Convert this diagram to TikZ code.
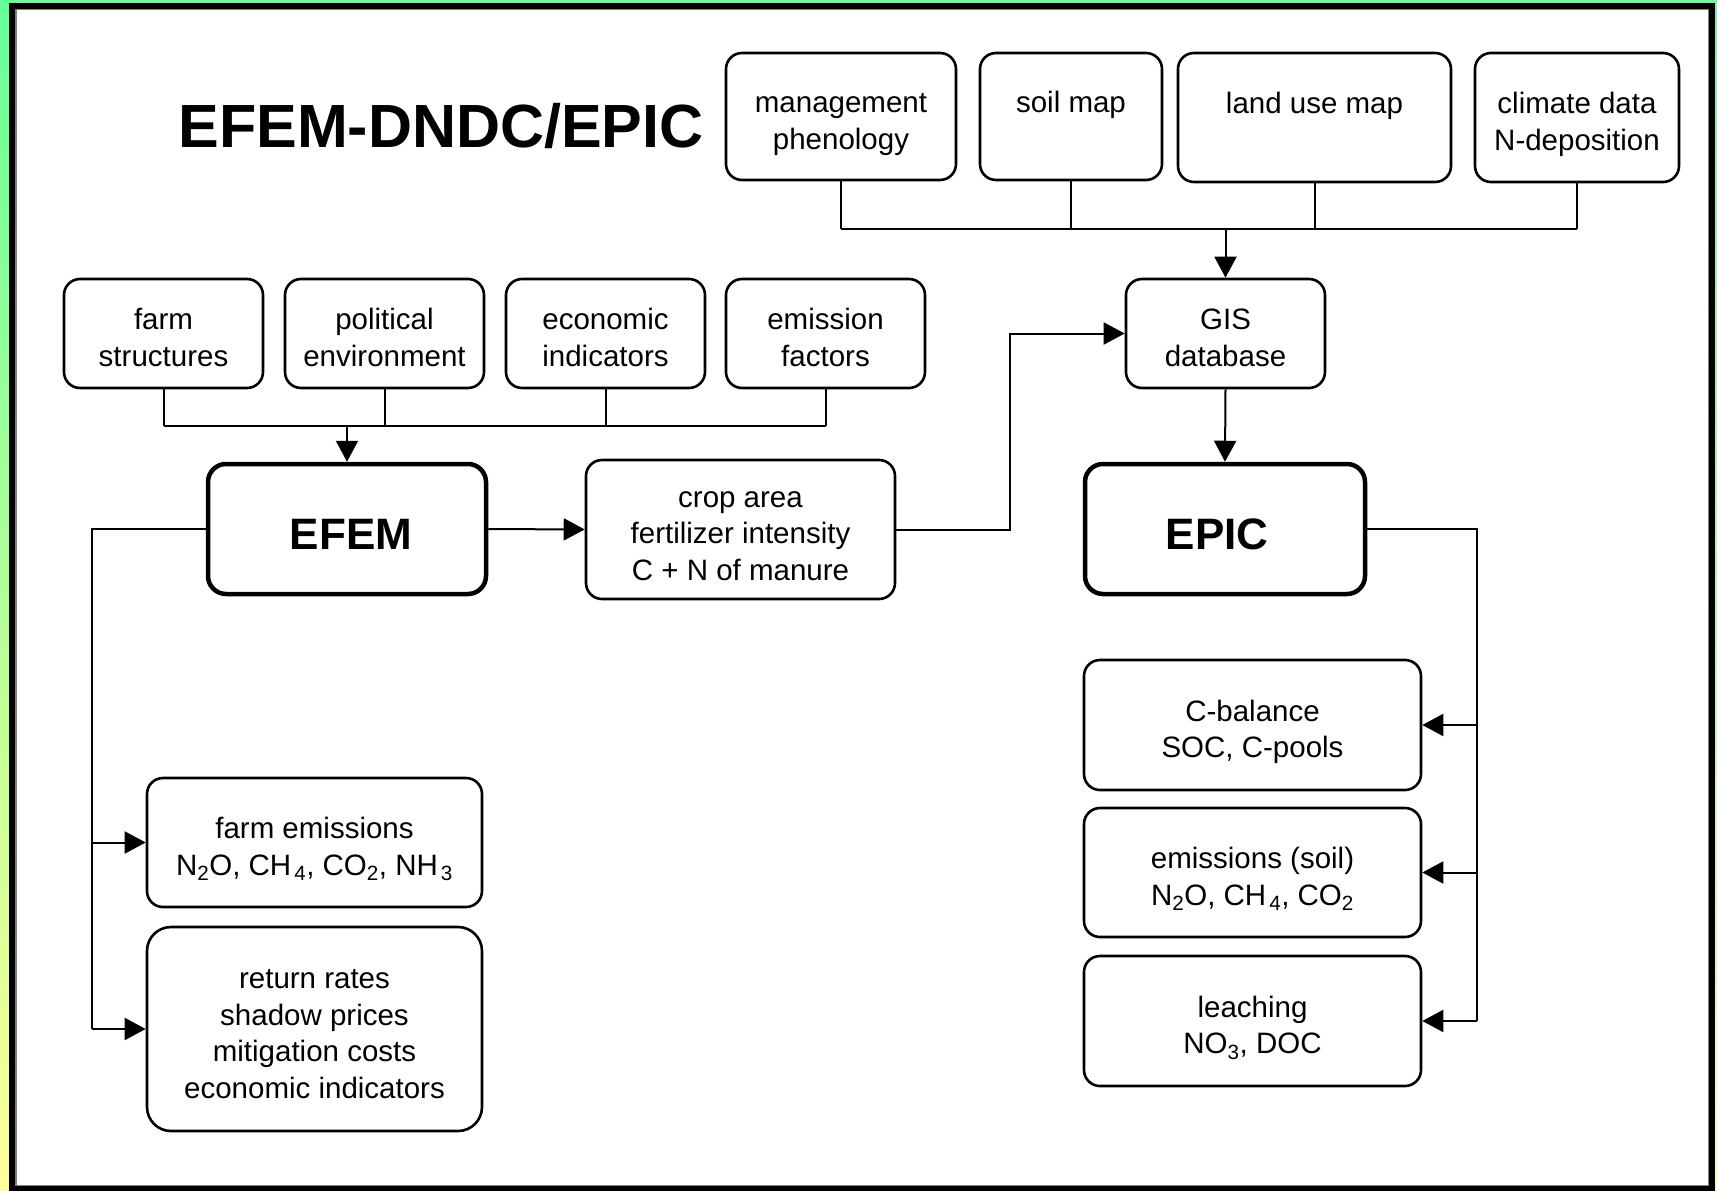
\documentclass[tikz,border=0pt]{standalone}
\usepackage{fontspec}
\setmainfont{Liberation Sans}
\usetikzlibrary{arrows.meta}
\definecolor{framegreen}{RGB}{102,255,153}
\definecolor{frameyellow}{RGB}{255,255,153}
% struts that fix the vertical placement of box texts
\newcommand\tstrut{\rule{0pt}{35.5pt}}
\newcommand\bstrut{\rule[-7pt]{0pt}{0pt}}
\begin{document}
\begin{tikzpicture}[x=1pt,y=-1pt,
  box/.style={draw, line width=2.6pt, rounded corners=16pt, fill=white,
    align=center, inner sep=0pt, font=\fontsize{29.5}{36.5}\selectfont},
  bigbox/.style={box, rounded corners=24pt},
  model/.style={draw, line width=4.5pt, rounded corners=18pt, fill=white,
    inner sep=0pt, font=\fontsize{44}{50}\selectfont\bfseries,
    execute at begin node={\rule{0pt}{41pt}}},
  link/.style={line width=2pt},
  arr/.style={link, -{Triangle[length=21pt,width=22pt]}},
]
\useasboundingbox (0,0) rectangle (1717,1191);
% page background and frame
\shade[top color=framegreen, bottom color=frameyellow] (0,0) rectangle (1717,1191);
\draw[line width=6.5pt, fill=white] (12.25,5.75) rectangle (1712,1189);
\draw[gray, line width=1.2pt] (16,9.6) rectangle (1708.5,1185.5);

% title
\node[font=\fontsize{61}{70}\selectfont\bfseries] (title) at (441,126) {EFEM-DNDC/EPIC};

% spatial input data
\node[box, minimum width=230pt, minimum height=127pt] (mgmt) at (841,116.5) {\tstrut management\\phenology\bstrut};
\node[box, minimum width=182pt, minimum height=127pt] (soil) at (1071,116.5) {\tstrut soil map\\\mbox{}\bstrut};
\node[box, minimum width=273pt, minimum height=129pt] (land) at (1314.5,117.5) {\tstrut land use map\\\mbox{}\bstrut};
\node[box, minimum width=204pt, minimum height=129pt] (clim) at (1577,117.5) {\tstrut climate data\\N-deposition\bstrut};

% farm model inputs
\node[box, minimum width=199pt, minimum height=109pt] (farm) at (163.5,333.5) {\tstrut farm\\structures\bstrut};
\node[box, minimum width=199pt, minimum height=109pt] (pol) at (384.5,333.5) {\tstrut political\\environment\bstrut};
\node[box, minimum width=199pt, minimum height=109pt] (eco) at (605.5,333.5) {\tstrut economic\\indicators\bstrut};
\node[box, minimum width=199pt, minimum height=109pt] (emf) at (825.5,333.5) {\tstrut emission\\factors\bstrut};
\node[box, minimum width=199pt, minimum height=109pt] (gis) at (1225.5,333.5) {\tstrut GIS\\database\bstrut};

% models and exchange
\node[model, minimum width=278pt, minimum height=130pt] (efem) at (347,529) {\hspace{8pt}EFEM};
\node[box, minimum width=309pt, minimum height=139pt] (crop) at (740.5,529.5) {\tstrut crop area\\fertilizer intensity\\C + N of manure\bstrut};
\node[model, minimum width=280pt, minimum height=130pt] (epic) at (1225,529) {EPIC\kern16pt};

% EPIC outputs
\node[box, minimum width=337pt, minimum height=130pt] (cbal) at (1252.5,725) {\tstrut C-balance\\SOC, C-pools\bstrut};
\node[box, minimum width=337pt, minimum height=129pt] (emis) at (1252.5,872.5) {\tstrut emissions (soil)\\N\textsubscript{2}O, CH\kern3pt\textsubscript{4}, CO\textsubscript{2}\bstrut};
\node[box, minimum width=337pt, minimum height=130pt] (leach) at (1252.5,1021) {\tstrut leaching\\NO\textsubscript{3}, DOC\bstrut};

% EFEM outputs
\node[box, minimum width=335pt, minimum height=129pt] (fe) at (314.5,842.5) {\tstrut farm emissions\\N\textsubscript{2}O, CH\kern3pt\textsubscript{4}, CO\textsubscript{2}, NH\kern3pt\textsubscript{3}\bstrut};
\node[bigbox, minimum width=335pt, minimum height=204pt] (ret) at (314.5,1029) {\tstrut return rates\\shadow prices\\mitigation costs\\economic indicators\bstrut};

% bus lines
\coordinate (topbus) at (0,229);
\coordinate (midbus) at (0,426);
\coordinate (cbend) at (1010,0);
\coordinate (lbus) at (92,0);
\coordinate (rbus) at (1477,0);

% spatial data -> GIS
\foreach \n in {mgmt,soil,land,clim}
  \draw[link] (\n.south) -- (\n.south |- topbus);
\draw[link] (mgmt.south |- topbus) -- (clim.south |- topbus);
\draw[arr] (gis.north |- topbus) -- (gis.north);

% farm inputs -> EFEM
\foreach \n in {farm,pol,eco,emf}
  \draw[link] (\n.south) -- (\n.south |- midbus);
\draw[link] (farm.south |- midbus) -- (emf.south |- midbus);
\draw[arr] (efem.north |- midbus) -- (efem.north);

% model chain
\draw[arr] (efem.east) -- (crop.west);
\draw[arr] (crop.east) -- (crop.east -| cbend) |- (gis.west);
\draw[arr] (gis.south) -- (epic.north);

% EFEM results
\draw[link] (efem.west) -| (lbus |- ret.west);
\draw[arr] (lbus |- fe.west) -- (fe.west);
\draw[arr] (lbus |- ret.west) -- (ret.west);

% EPIC results
\draw[link] (epic.east) -| (rbus |- leach.east);
\draw[arr] (rbus |- cbal.east) -- (cbal.east);
\draw[arr] (rbus |- emis.east) -- (emis.east);
\draw[arr] (rbus |- leach.east) -- (leach.east);
\end{tikzpicture}
\end{document}
